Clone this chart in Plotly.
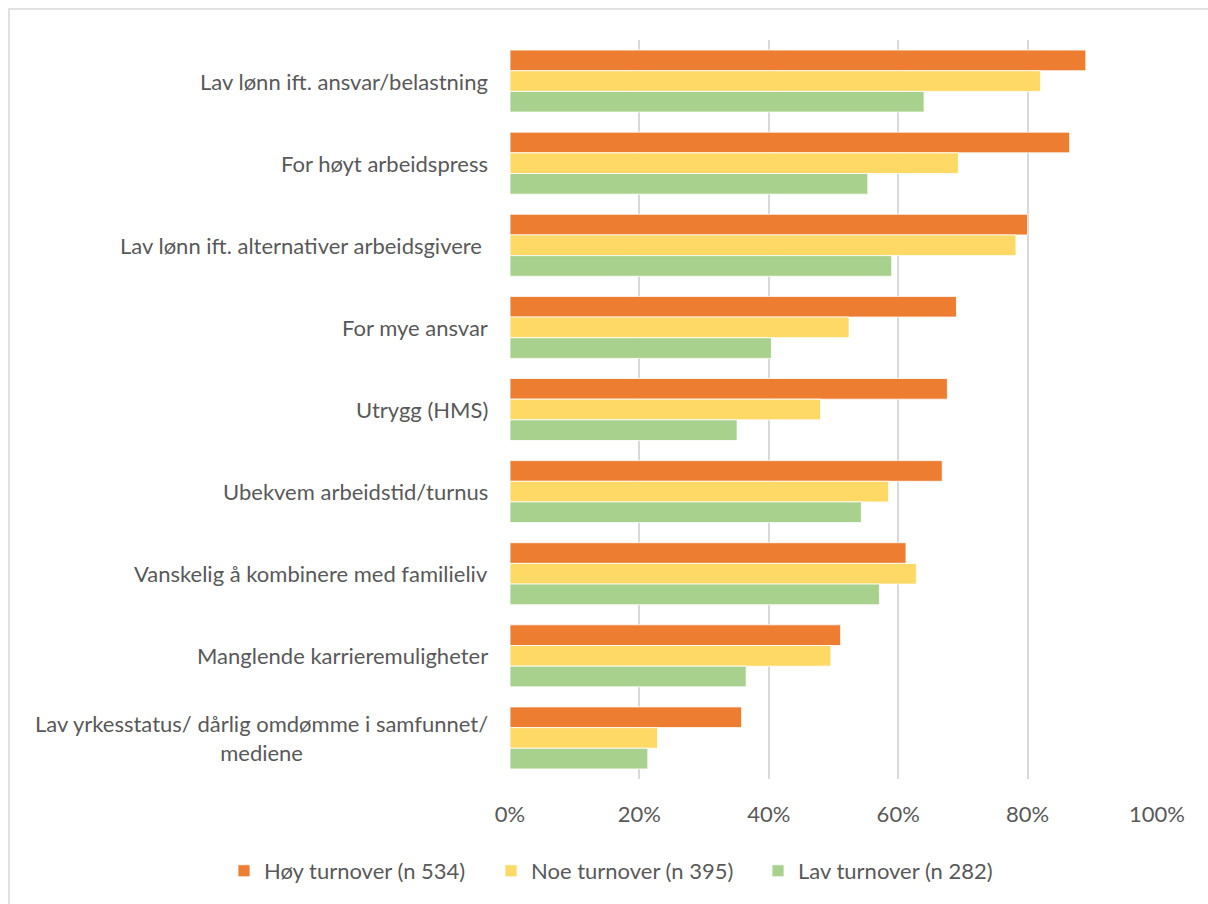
import plotly.graph_objects as go

# Reasons given for turnover, share of respondents by turnover level
categories = [
    "Lav lønn ift. ansvar/belastning",
    "For høyt arbeidspress",
    "Lav lønn ift. alternativer arbeidsgivere\u00a0",
    "For mye ansvar",
    "Utrygg (HMS)",
    "Ubekvem arbeidstid/turnus",
    "Vanskelig å kombinere med familieliv",
    "Manglende karrieremuligheter",
    "Lav yrkesstatus/ dårlig omdømme i samfunnet/<br>mediene",
]

series_names = ["Høy turnover (n 534)", "Noe turnover (n 395)", "Lav turnover (n 282)"]
hoy_turnover = [0.89, 0.865, 0.80, 0.69, 0.676, 0.668, 0.612, 0.511, 0.358]
noe_turnover = [0.82, 0.693, 0.782, 0.524, 0.48, 0.585, 0.628, 0.496, 0.228]
lav_turnover = [0.64, 0.553, 0.59, 0.404, 0.351, 0.543, 0.571, 0.365, 0.213]

x_ticks = [0, 0.2, 0.4, 0.6, 0.8, 1.0]
x_tick_labels = ["0%", "20%", "40%", "60%", "80%", "100%"]

colors = ["#ED7D31", "#FFD966", "#A9D18E"]
text_color = "#595959"
grid_color = "#D9D9D9"
font_family = "Lato, 'Open Sans', sans-serif"
font_size = 22

W, H = 1208, 904
ML, MR, MT, MB = 510, 51, 40, 125
plot_w = W - ML - MR
plot_h = H - MT - MB

fig = go.Figure()
for name, vals, col in zip(series_names, [hoy_turnover, noe_turnover, lav_turnover], colors):
    fig.add_trace(go.Bar(
        y=categories,
        x=vals,
        name=name,
        orientation="h",
        marker=dict(color=col, line=dict(color="white", width=0.8)),
    ))

# Category labels, centred per line and right-aligned against the axis
for cat in categories:
    fig.add_annotation(
        x=0, xref="paper", xanchor="right", xshift=-20,
        y=cat, yref="y", yanchor="middle",
        text=cat, showarrow=False, align="center",
        font=dict(family=font_family, size=font_size, color=text_color),
    )

# Pixel -> paper coordinate helpers for decorations outside the plot area
def px_x(p):
    return (p - ML) / plot_w

def px_y(p):
    return (H - MB - p) / plot_h

# Light grey chart-area border
fig.add_shape(
    type="rect", xref="paper", yref="paper",
    x0=px_x(9), x1=px_x(1210), y0=px_y(9), y1=px_y(905),
    line=dict(color=grid_color, width=1.5), fillcolor="rgba(0,0,0,0)", layer="below",
)

fig.update_layout(
    width=W, height=H,
    margin=dict(l=ML, r=MR, t=MT, b=MB),
    paper_bgcolor="white", plot_bgcolor="white",
    barmode="group", bargap=0.245, bargroupgap=0.0,
    font=dict(family=font_family, size=font_size, color=text_color),
    showlegend=True,
    legend=dict(
        orientation="h", traceorder="normal",
        x=px_x(224), xanchor="left",
        y=px_y(871), yanchor="middle",
        font=dict(family=font_family, size=font_size, color=text_color),
        itemwidth=30,
        entrywidth=222, entrywidthmode="pixels",
    ),
    xaxis=dict(
        range=[0, 1], tickvals=x_ticks, ticktext=x_tick_labels,
        showgrid=True, gridcolor=grid_color, gridwidth=1.5,
        zeroline=False, showline=False, ticks="",
        ticklabelstandoff=20,
        tickfont=dict(family=font_family, size=font_size, color=text_color),
        fixedrange=True,
    ),
    yaxis=dict(
        autorange="reversed", showticklabels=False, ticks="",
        showgrid=False, zeroline=False, showline=False,
        fixedrange=True,
    ),
)

fig.write_html("out.html")
